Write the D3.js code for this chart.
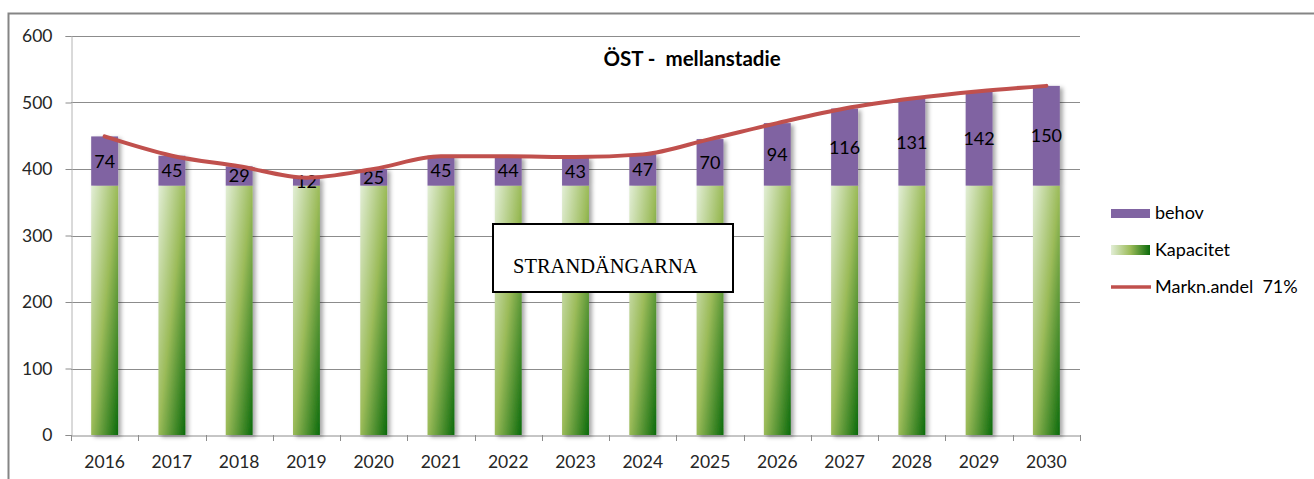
<!DOCTYPE html>
<html><head><meta charset="utf-8">
<script src="https://cdn.jsdelivr.net/npm/d3@7"></script>
<style>
html,body{margin:0;padding:0;background:#fff;}
svg{display:block;font-family:Lato,"Open Sans",sans-serif;}
text{white-space:pre;}
</style></head>
<body><svg id="c" width="1314" height="479"></svg>
<script>
const years = ["2016","2017","2018","2019","2020","2021","2022","2023","2024","2025","2026","2027","2028","2029","2030"];
const kapacitet = [375,375,375,375,375,375,375,375,375,375,375,375,375,375,375];
const behov = [74,45,29,12,25,45,44,43,47,70,94,116,131,142,150];
const marknandel = [449,420,404,387,400,419,419,418,422,445,469,491,506,517,525];
const yTicks = [0,100,200,300,400,500,600];
const seriesNames = ["behov","Kapacitet","Markn.andel  71%"];
const title = "ÖST -  mellanstadie";
const boxText = "STRANDÄNGARNA";

const svg = d3.select("#c");
const defs = svg.append("defs");
const g1 = defs.append("linearGradient").attr("id","gk").attr("x1",0).attr("y1",0).attr("x2",1).attr("y2",1);
g1.append("stop").attr("offset","0%").attr("stop-color","#e2eed6");
g1.append("stop").attr("offset","50%").attr("stop-color","#9bbb59");
g1.append("stop").attr("offset","100%").attr("stop-color","#0b6a0b");
const g2 = defs.append("linearGradient").attr("id","gl").attr("x1",0).attr("y1",0).attr("x2",1).attr("y2",0);
g2.append("stop").attr("offset","0%").attr("stop-color","#e2eed6");
g2.append("stop").attr("offset","50%").attr("stop-color","#9bbb59");
g2.append("stop").attr("offset","100%").attr("stop-color","#0b6a0b");
const f = defs.append("filter").attr("id","sh").attr("x","-50%").attr("y","-10%").attr("width","200%").attr("height","120%");
f.append("feDropShadow").attr("dx",3).attr("dy",2).attr("stdDeviation",2).attr("flood-color","#000").attr("flood-opacity",0.35);

// outer frame
svg.append("path").attr("d","M8.5,479 L8.5,13.5 L1314,13.5").attr("fill","none").attr("stroke","#858585").attr("stroke-width",2);

const x = d3.scaleBand().domain(years).range([71,1080]).paddingInner(0.6).paddingOuter(0.3);
const y = d3.scaleLinear().domain([0,600]).range([435,36]);

// grid
svg.append("g").selectAll("line").data(yTicks.filter(d=>d>0)).join("line")
  .attr("x1",71).attr("x2",1080).attr("y1",d=>Math.round(y(d))+0.5).attr("y2",d=>Math.round(y(d))+0.5)
  .attr("stroke","#8c8c8c").attr("stroke-width",1);

// y axis
const ya = svg.append("g").attr("transform","translate(71.5,0)").call(d3.axisLeft(y).tickValues(yTicks).tickSize(6).tickPadding(13));
ya.select(".domain").attr("stroke","#b4b4b4");
ya.selectAll(".tick line").attr("stroke","#8c8c8c");
ya.selectAll("text").attr("font-size","17.5px").attr("fill","#262626").attr("font-family","Lato");

// x axis
const xa = svg.append("g").attr("transform","translate(0,435.5)").call(d3.axisBottom(x).tickSize(0).tickPadding(20));
xa.select(".domain").attr("stroke","#8c8c8c");
xa.selectAll("text").attr("font-size","17.5px").attr("fill","#262626").attr("font-family","Lato");
const bounds = d3.range(years.length+1).map(i=>71 + i*(1080-71)/years.length);
svg.append("g").selectAll("line").data(bounds).join("line")
  .attr("x1",d=>Math.round(d)+0.5).attr("x2",d=>Math.round(d)+0.5).attr("y1",435).attr("y2",441)
  .attr("stroke","#8c8c8c");

// bars
const bars = svg.append("g").attr("filter","url(#sh)");
bars.selectAll(".k").data(years).join("rect").attr("class","k")
  .attr("x",d=>x(d)).attr("width",x.bandwidth())
  .attr("y",(d,i)=>y(kapacitet[i])).attr("height",(d,i)=>y(0)-y(kapacitet[i]))
  .attr("fill","url(#gk)");
bars.selectAll(".b").data(years).join("rect").attr("class","b")
  .attr("x",d=>x(d)).attr("width",x.bandwidth())
  .attr("y",(d,i)=>y(kapacitet[i]+behov[i])).attr("height",(d,i)=>y(kapacitet[i])-y(kapacitet[i]+behov[i]))
  .attr("fill","#8064a2");

// labels
svg.append("g").selectAll("text").data(years).join("text")
  .attr("x",d=>x(d)+x.bandwidth()/2)
  .attr("y",(d,i)=>y(kapacitet[i]+behov[i]/2))
  .attr("dy","0.36em").attr("text-anchor","middle")
  .attr("font-size","18px").attr("fill","#000")
  .text((d,i)=>behov[i]);

// line
const line = d3.line().x((d,i)=>x(years[i])+x.bandwidth()/2).y(d=>y(d)).curve(d3.curveMonotoneX);
svg.append("path").datum(marknandel).attr("d",line).attr("fill","none")
  .attr("stroke","#c0504d").attr("stroke-width",4).attr("stroke-linecap","round");

// title
svg.append("text").attr("x",692).attr("y",66).attr("text-anchor","middle")
  .attr("font-size","20.5px").attr("font-weight","bold").attr("fill","#000").text(title);

// text box
svg.append("rect").attr("x",493).attr("y",224).attr("width",240).attr("height",68)
  .attr("fill","#fff").attr("stroke","#000").attr("stroke-width",2);
svg.append("text").attr("x",513).attr("y",273).attr("font-family","'Liberation Serif','DejaVu Serif',serif")
  .attr("font-size","20.5px").attr("fill","#000").text(boxText);

// legend
const lg = svg.append("g");
lg.append("rect").attr("x",1111).attr("y",209).attr("width",39).attr("height",9).attr("fill","#8064a2");
lg.append("rect").attr("x",1111).attr("y",245).attr("width",39).attr("height",10).attr("fill","url(#gl)");
lg.append("line").attr("x1",1111).attr("x2",1151).attr("y1",287).attr("y2",287).attr("stroke","#c0504d").attr("stroke-width",3.5);
const ly = [219,256,293];
lg.selectAll("text").data(seriesNames).join("text").attr("x",1155).attr("y",(d,i)=>ly[i])
  .attr("font-size","18px").attr("fill","#000").text(d=>d);
</script></body></html>
